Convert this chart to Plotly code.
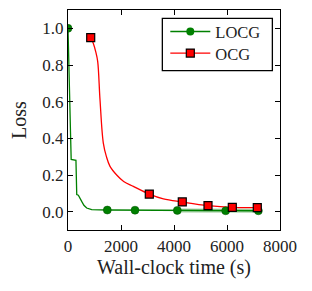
import plotly.graph_objects as go

# LOCG series
locg_line_x = [0, 30, 60, 100, 120, 300, 330, 390, 517, 600, 705, 894, 1483, 2528, 4125, 5950, 7183]
locg_line_y = [1.0, 0.75, 0.5, 0.4, 0.285, 0.28, 0.093, 0.09, 0.056, 0.035, 0.02, 0.011, 0.009, 0.008, 0.007, 0.005, 0.005]
locg_mark_x = [0, 1483, 2528, 4125, 5950, 7183]
locg_mark_y = [1.0, 0.009, 0.008, 0.007, 0.005, 0.005]
locg_band_x = [4125, 7183]
locg_band_y = [0.007, 0.005]

# OCG series
ocg_line_x = [857, 950, 1050, 1120, 1208, 1333, 1450, 1585, 1837, 2100, 2465, 3068, 3600, 4313, 5283, 6200, 7143]
ocg_line_y = [0.949, 0.92, 0.87, 0.82, 0.61, 0.374, 0.3, 0.247, 0.2, 0.165, 0.138, 0.096, 0.07, 0.053, 0.033, 0.023, 0.022]
ocg_mark_x = [857, 3068, 4313, 5283, 6200, 7143]
ocg_mark_y = [0.949, 0.096, 0.053, 0.033, 0.023, 0.022]

x_ticks = [0, 2000, 4000, 6000, 8000]
y_ticks = [0.0, 0.2, 0.4, 0.6, 0.8, 1.0]
y_tick_labels = ["0.0", "0.2", "0.4", "0.6", "0.8", "1.0"]

green = "#008000"
red = "#ff0000"
font = "Liberation Serif"
txt = "#222222"

fig = go.Figure()
fig.add_trace(go.Scatter(x=locg_band_x, y=locg_band_y, mode="lines",
                         line=dict(color="rgba(0,128,0,0.35)", width=4), showlegend=False, hoverinfo="skip"))
fig.add_trace(go.Scatter(x=locg_line_x, y=locg_line_y, mode="lines",
                         line=dict(color=green, width=1.3), showlegend=False))
fig.add_trace(go.Scatter(x=ocg_line_x, y=ocg_line_y, mode="lines", line_shape="spline",
                         line=dict(color=red, width=1.3), showlegend=False))
fig.add_trace(go.Scatter(x=locg_mark_x, y=locg_mark_y, mode="markers",
                         marker=dict(symbol="circle", size=8, color=green, line=dict(color="#005000", width=0.5)),
                         showlegend=False, cliponaxis=True))
fig.add_trace(go.Scatter(x=ocg_mark_x, y=ocg_mark_y, mode="markers",
                         marker=dict(symbol="square", size=8, color=red, line=dict(color="black", width=1.2)),
                         showlegend=False, cliponaxis=False))
# legend entries (one legend per row for exact spacing)
fig.add_trace(go.Scatter(x=[None], y=[None], mode="lines+markers", name="LOCG", legend="legend",
                         line=dict(color=green, width=1.3),
                         marker=dict(symbol="circle", size=8, color=green)))
fig.add_trace(go.Scatter(x=[None], y=[None], mode="lines+markers", name="OCG", legend="legend2",
                         line=dict(color=red, width=1.3),
                         marker=dict(symbol="square", size=8, color=red, line=dict(color="black", width=1.2))))

axis_common = dict(showgrid=False, zeroline=False, showline=True, linecolor="black", linewidth=1.2,
                   mirror="allticks", ticks="inside", ticklen=5, tickcolor="black", tickwidth=1,
                   tickfont=dict(family=font, size=17, color=txt))
fig.update_xaxes(range=[0, 8000], tickvals=x_ticks, ticktext=[str(v) for v in x_ticks],
                 title=dict(text="Wall-clock time (s)", font=dict(family=font, size=20, color=txt), standoff=2),
                 **axis_common)
fig.update_yaxes(range=[-0.1, 1.1], tickvals=y_ticks, ticktext=y_tick_labels,
                 title=dict(text="Loss", font=dict(family=font, size=20, color=txt), standoff=10),
                 **axis_common)
# legend frame
fig.add_shape(type="rect", xref="paper", yref="paper", x0=0.445, x1=0.964, y0=0.724, y1=0.962,
              line=dict(color="black", width=1.3), fillcolor="white", layer="below")
leg_common = dict(xanchor="left", yanchor="middle", borderwidth=0, bgcolor="rgba(0,0,0,0)",
                  font=dict(family=font, size=16.5, color=txt), itemwidth=40)
fig.update_layout(width=304, height=283, margin=dict(l=60, r=32, t=2, b=61),
                  plot_bgcolor="white", paper_bgcolor="white",
                  legend=dict(x=0.459, y=0.901, **leg_common),
                  legend2=dict(x=0.459, y=0.803, **leg_common))
fig.write_html("out.html")
